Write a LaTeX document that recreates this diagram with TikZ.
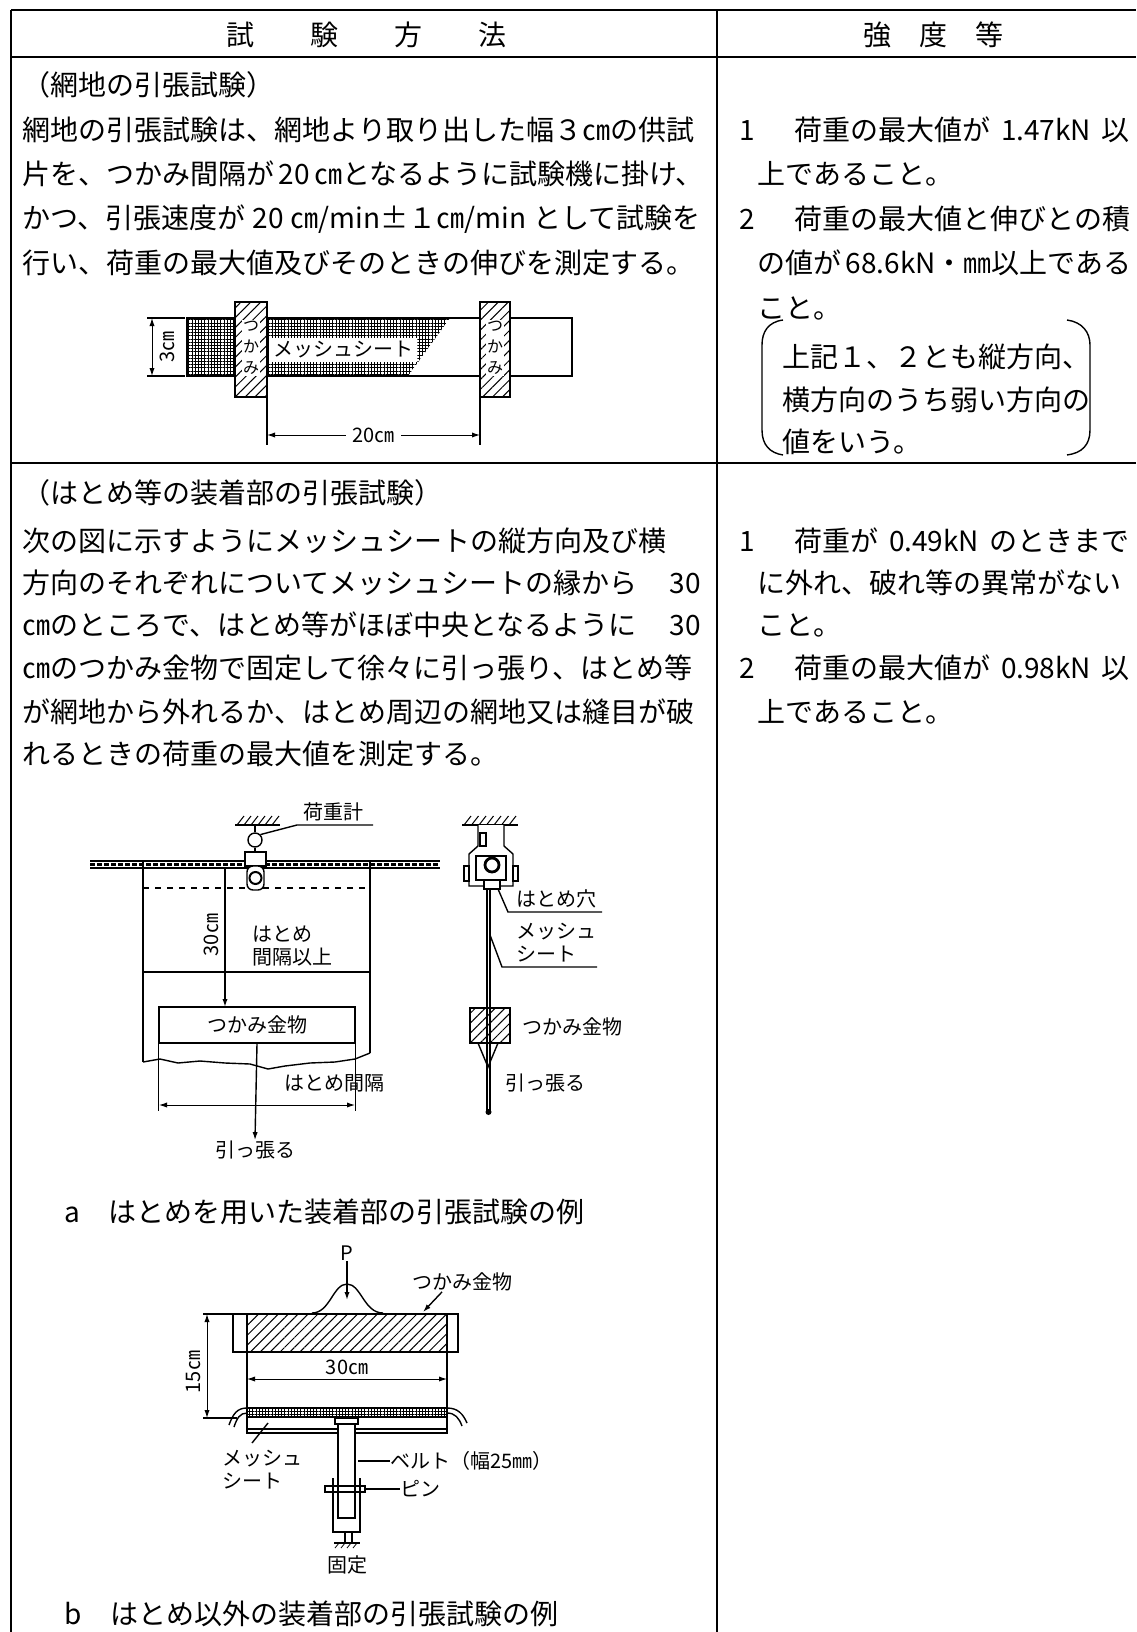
\documentclass[tikz,border=0pt]{standalone}
\usepackage{fontspec}
\setmainfont{Noto Sans CJK JP}
\usetikzlibrary{arrows.meta,positioning,patterns.meta}
\XeTeXlinebreaklocale "ja"
\XeTeXlinebreakskip=0pt plus 2pt
\newlength{\pxu}
\setlength{\pxu}{0.5pt}
\newcommand{\jline}[2]{\makebox[#1\pxu][s]{#2}}
\newcommand{\bodyfont}{\fontsize{14}{16}\selectfont}
\newcommand{\lblfont}{\fontsize{10}{11.5}\selectfont}
\newcommand{\tinyfont}{\fontsize{8}{10.5}\selectfont}

\begin{document}
\begin{tikzpicture}[x=0.5pt,y=-0.5pt,line width=0.7pt,>={Latex[length=4pt,width=2.6pt]}]
  \tikzstyle{txt}=[anchor=west,inner sep=0pt,font=\bodyfont]
  \tikzstyle{lbl}=[inner sep=0pt,font=\lblfont]
  \tikzstyle{hatch}=[pattern={Lines[angle=45,distance=3.5pt,line width=0.5pt]}]
  \tikzstyle{mesh}=[pattern={Hatch[distance=1.6pt,line width=0.5pt]}]
  \tikzstyle{dim}=[<->,line width=0.5pt]
  \useasboundingbox (0,0) rectangle (1136,1632);
  % table frame
  \draw[line width=1pt] (11,10) -- (1136,10);
  \draw[line width=1pt] (11,57) -- (1136,57);
  \draw[line width=0.8pt] (11,463) -- (1136,463);
  \draw[line width=0.8pt] (11,10) -- (11,1632);
  \draw[line width=0.8pt] (717,10) -- (717,1632);
  \node[txt,anchor=center] (hm) at (366,35) {試\hspace{2em}験\hspace{2em}方\hspace{2em}法};
  \node[txt,anchor=center] (hs) at (933,35) {強\hspace{1em}度\hspace{1em}等};

  % row 1: net tensile test
  \node[txt] (a0) at (22,85) {（網地の引張試験）};
  \node[txt] (a1) at (22,130) {\jline{678}{網地の引張試験は、網地より取り出した幅３㎝の供試}};
  \node[txt] (a2) at (22,174) {\jline{678}{片を、つかみ間隔が 20 ㎝となるように試験機に掛け、}};
  \node[txt] (a3) at (22,219) {\jline{678}{かつ、引張速度が 20 ㎝/min±１㎝/min として試験を}};
  \node[txt] (a4) at (22,263) {行い、荷重の最大値及びそのときの伸びを測定する。};
  \node[txt] (b1) at (739,130) {\jline{390}{1\hspace{1.4em}荷重の最大値が 1.47kN 以}};
  \node[txt] (b2) at (757,174) {上であること。};
  \node[txt] (b3) at (739,219) {\jline{390}{2\hspace{1.4em}荷重の最大値と伸びとの積}};
  \node[txt] (b4) at (757,263) {\jline{372}{の値が 68.6kN・㎜以上である}};
  \node[txt] (b5) at (757,308) {こと。};
  \node[txt] (b6) at (782,357) {上記１、２とも縦方向、};
  \node[txt] (b7) at (782,400) {横方向のうち弱い方向の};
  \node[txt] (b8) at (782,442) {値をいう。};
  \draw (783,320) .. controls (768,322) and (762,332) .. (762,345) -- (762,430) .. controls (762,445) and (770,453) .. (783,455);
  \draw (1067,320) .. controls (1082,322) and (1090,332) .. (1090,345) -- (1090,430) .. controls (1090,445) and (1082,453) .. (1067,455);

  % sample strip between grips
  \draw (187,318) rectangle (572,376);
  \fill[mesh] (187,318) rectangle (235,376);
  \fill[mesh] (267,318) -- (450,318) -- (408,376) -- (267,376) -- cycle;
  \node[lbl,fill=white,inner sep=2pt] (ms) at (343,350) {メッシュシート};
  \draw[hatch,preaction={fill=white}] (235,302) rectangle (267,397);
  \draw[hatch,preaction={fill=white}] (480,302) rectangle (510,397);
  \node[inner sep=0.5pt,fill=white,align=center,font=\tinyfont] (g1) at (251,348) {つ\\か\\み};
  \node[inner sep=0.5pt,fill=white,align=center,font=\tinyfont] (g2) at (495,348) {つ\\か\\み};
  \draw (147,318) -- (185,318);
  \draw (147,376) -- (185,376);
  \draw[dim] (152,318) -- (152,376);
  \node[lbl,rotate=90] (w3) at (167,347) {3㎝};
  \draw (267,397) -- (267,445);
  \draw (480,397) -- (480,445);
  \draw[dim] (267,435) -- node[lbl,fill=white,inner sep=3pt] (l20) {20㎝} (480,435);

  % row 2: eyelet tensile test
  \node[txt] (c0) at (22,493) {（はとめ等の装着部の引張試験）};
  \node[txt] (c1) at (22,541) {\jline{678}{次の図に示すようにメッシュシートの縦方向及び横}};
  \node[txt] (c2) at (22,583) {\jline{678}{方向のそれぞれについてメッシュシートの縁から 30}};
  \node[txt] (c3) at (22,625) {\jline{678}{㎝のところで、はとめ等がほぼ中央となるように 30}};
  \node[txt] (c4) at (22,668) {\jline{678}{㎝のつかみ金物で固定して徐々に引っ張り、はとめ等}};
  \node[txt] (c5) at (22,712) {\jline{678}{が網地から外れるか、はとめ周辺の網地又は縫目が破}};
  \node[txt] (c6) at (22,754) {れるときの荷重の最大値を測定する。};
  \node[txt] (d1) at (739,541) {\jline{390}{1\hspace{1.4em}荷重が 0.49kN のときまで}};
  \node[txt] (d2) at (757,583) {に外れ、破れ等の異常がない};
  \node[txt] (d3) at (757,625) {こと。};
  \node[txt] (d4) at (739,668) {\jline{390}{2\hspace{1.4em}荷重の最大値が 0.98kN 以}};
  \node[txt] (d5) at (757,712) {上であること。};

  % figure a, front view
  \draw (235,825) -- (280,825);
  \foreach \i in {0,...,5} \draw[line width=0.5pt] (237+7*\i,825) -- ++(7,-9);
  \node[draw,circle,minimum size=7pt,inner sep=0pt] (lc) at (255,840) {};
  \draw (255,825) -- (lc.north);
  \draw (lc.south) -- (255,852);
  \node[lbl] (lm) at (333,812) {荷重計};
  \draw (lc.north east) -- (297,825) -- (373,825);
  \draw (90,861) -- (440,861);
  \draw (90,868) -- (440,868);
  \draw[line width=1.2pt,dash pattern=on 2.5pt off 1pt] (90,864.5) -- (440,864.5);
  \draw (143,861) -- (143,1062);
  \draw (370,861) -- (370,1053);
  \draw (143,1062) -- (160,1059) -- (178,1063) -- (200,1061) -- (225,1063) -- (250,1064) -- (268,1069) -- (285,1066) -- (310,1063) -- (335,1062) -- (355,1059) -- (370,1053);
  \draw[dashed] (143,888) -- (370,888);
  \draw (143,972) -- (370,972);
  \draw[fill=white] (245,852) rectangle (266,866);
  \draw[fill=white,rounded corners=3pt] (247,866) rectangle (264,890);
  \draw[line width=1pt] (255.5,878) circle[radius=3pt];
  \draw[->] (225,868) -- (225,1007);
  \node[lbl,rotate=90] (h30) at (211,935) {30㎝};
  \node[lbl,anchor=west,align=left] (hk) at (252,946) {はとめ\\間隔以上};
  \node[lbl,draw,minimum width=98pt,minimum height=18pt] (gk) at (257,1025) {つかみ金物};
  \node[lbl] (pa) at (255,1150) {引っ張る};
  \draw[->] (gk.south) -- (pa.north);
  \draw (gk.south west) -- ++(0,67);
  \draw (gk.south east) -- ++(0,67);
  \draw[dim] (159,1105) -- (355,1105);
  \node[lbl] (hs2) at (334,1083) {はとめ間隔};

  % figure a, side view
  \draw (462,825) -- (518,825);
  \foreach \i in {0,...,6} \draw[line width=0.5pt] (464+7.5*\i,825) -- ++(7,-9);
  \draw[fill=white] (478,825) -- (478,846) -- (469,854) -- (469,886) -- (513,886) -- (513,854) -- (504,846) -- (504,825);
  \draw (480,833) rectangle (486,846);
  \draw[fill=white] (464,866) rectangle (469,881);
  \draw[fill=white] (513,866) rectangle (518,881);
  \draw (476,856) rectangle (506,880);
  \draw[line width=1.4pt] (492,865) circle[radius=3.5pt];
  \draw[fill=white] (484,880) rectangle (500,889);
  \draw[hatch,preaction={fill=white}] (470,1008) rectangle (510,1043);
  \draw (478,1043) -- (488,1067) -- (498,1043);
  \draw (487,889) -- (487,1112);
  \draw (490,889) -- (490,1112);
  \fill (488.5,1112) circle[radius=1.5pt];
  \node[lbl,anchor=west] (hh) at (516,899) {はとめ穴};
  \draw (498,889) -- (508,912) -- (602,912);
  \node[lbl,anchor=west,align=left] (ms2) at (516,943) {メッシュ\\シート};
  \draw (490,935) -- (502,967) -- (597,967);
  \node[lbl,anchor=west] (gk2) at (522,1027) {つかみ金物};
  \node[lbl,anchor=west] (pa2) at (505,1083) {引っ張る};
  \node[txt] (ca) at (64,1212) {a\hspace{1em}はとめを用いた装着部の引張試験の例};

  % figure b, other fittings
  \node[lbl] (p) at (347,1253) {P};
  \draw[->] (p.south) -- (347,1300);
  \draw (312,1313) .. controls (330,1313) and (333,1284) .. (347,1284) .. controls (361,1284) and (364,1313) .. (383,1313);
  \draw (233,1314) rectangle (458,1352);
  \draw[hatch] (247,1314) rectangle (447,1352);
  \node[lbl] (gk3) at (462,1282) {つかみ金物};
  \draw[->] ([xshift=-10pt]gk3.south) -- (423,1312);
  \draw (203,1314) -- (233,1314);
  \draw (203,1418) -- (237,1418);
  \draw[dim] (207,1314) -- (207,1418);
  \node[lbl,rotate=90] (h15) at (193,1372) {15㎝};
  \draw (247,1352) -- (247,1408);
  \draw (447,1352) -- (447,1408);
  \draw[dim] (247,1379) -- (447,1379);
  \node[lbl] (w30) at (347,1367) {30㎝};
  \draw[mesh] (247,1408) rectangle (447,1417);
  \draw (247,1408) .. controls (237,1408) and (233,1414) .. (229,1425);
  \draw (247,1413) .. controls (240,1413) and (237,1418) .. (234,1427);
  \draw (447,1408) .. controls (458,1408) and (463,1414) .. (467,1423);
  \draw (447,1413) .. controls (455,1413) and (459,1418) .. (462,1426);
  \draw (247,1417) rectangle (447,1433);
  \draw (247,1429) -- (447,1429);
  \draw (333,1478) -- (333,1532) -- (360,1532) -- (360,1478);
  \draw[fill=white] (338,1424) rectangle (355,1518);
  \draw[fill=white] (335,1418) rectangle (358,1424);
  \draw (325,1486) rectangle (365,1492);
  \draw (345,1532) -- (345,1543);
  \draw (352,1532) -- (352,1543);
  \draw (334,1543) -- (360,1543);
  \foreach \i in {0,...,3} \draw[line width=0.4pt] (339+6*\i,1543) -- ++(-4,5);
  \node[lbl] (fx) at (347,1565) {固定};
  \node[lbl,anchor=west] (bt) at (390,1461) {ベルト（幅25㎜）};
  \draw (358,1461) -- (bt.west);
  \node[lbl,anchor=west] (pn) at (400,1489) {ピン};
  \draw (365,1489) -- (pn.west);
  \node[lbl,anchor=north west,align=left] (ms3) at (222,1449) {メッシュ\\シート};
  \draw (268,1423) -- (252,1443);
  \node[txt] (cb) at (64,1614) {b\hspace{1em}はとめ以外の装着部の引張試験の例};
\end{tikzpicture}
\end{document}
